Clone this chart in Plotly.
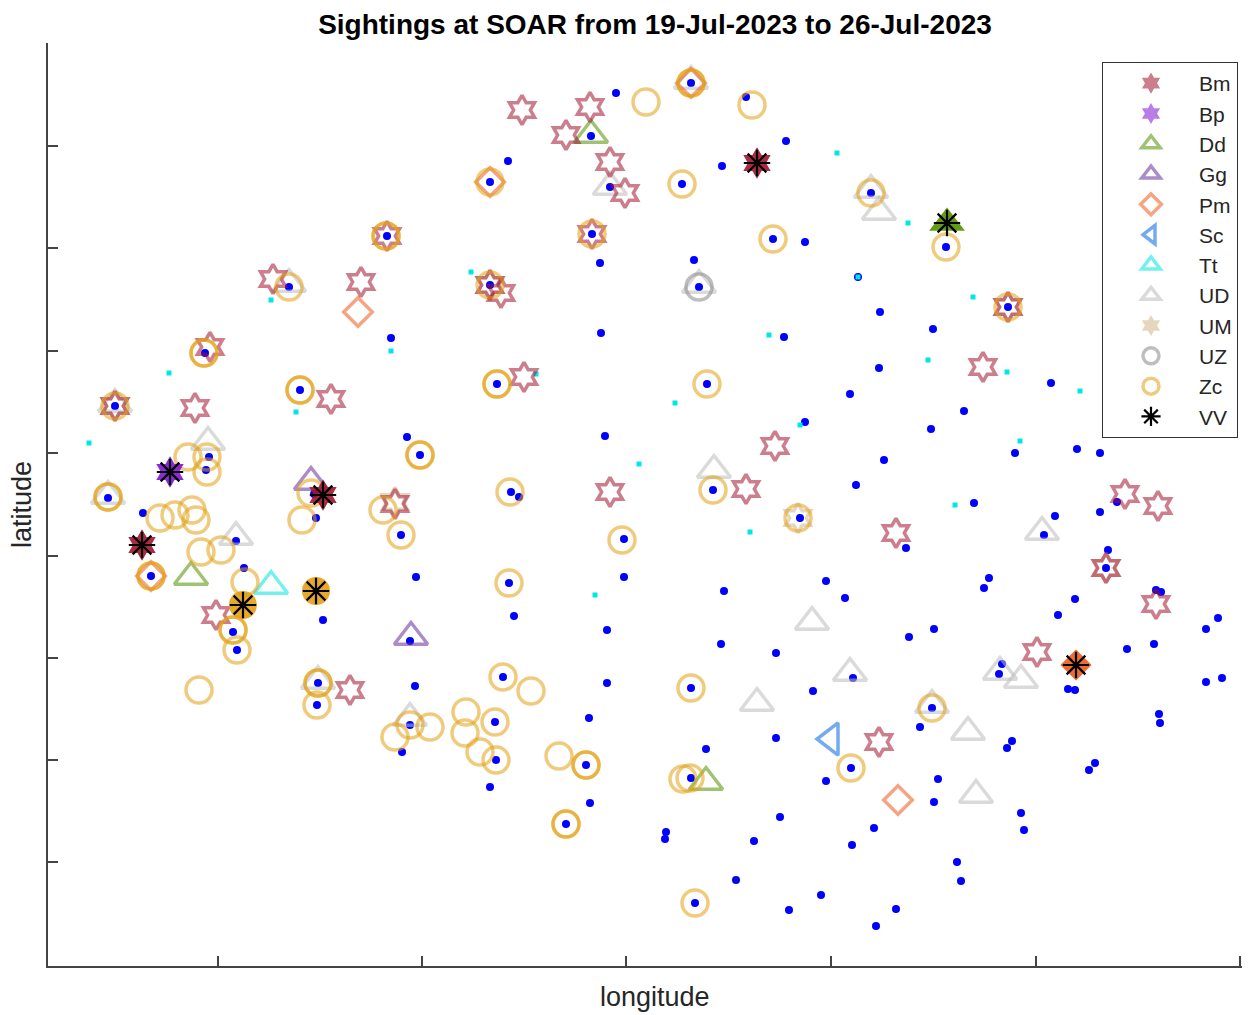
import plotly.graph_objects as go

# ---------------- data (longitude / latitude in plot units) ----------------
track_lon = [616, 691, 746, 508, 591, 490, 610, 682, 722, 786, 387, 592, 773, 805, 871, 946, 600, 694, 699, 289,
             490, 391, 858, 880, 933, 1008, 205, 601, 784, 879, 850, 300, 497, 707, 964, 931, 1051, 115, 407, 420,
             605, 805, 884, 1015, 1077, 1100, 209, 206, 108, 314, 511, 519, 713, 856, 974, 1117, 143, 316, 401, 624,
             800, 906, 1055, 1100, 1044, 236, 1108, 1106, 244, 151, 416, 509, 624, 724, 826, 845, 989, 984, 1075, 1058,
             1156, 1161, 323, 514, 607, 721, 909, 934, 1218, 1206, 233, 237, 410, 1127, 1154, 853, 1002, 999, 1068, 1075,
             1206, 1222, 415, 318, 317, 503, 607, 691, 813, 776, 932, 920, 1159, 1160, 410, 402, 495, 496, 589, 586,
             490, 706, 776, 1012, 1007, 691, 826, 851, 1095, 1089, 938, 934, 780, 754, 590, 566, 666, 665, 874, 852,
             1021, 1024, 957, 961, 736, 695, 821, 789, 896, 876]
track_lat = [907, 917, 903, 839, 864, 818, 813, 816, 834, 859, 764, 766, 761, 758, 807, 753, 737, 740, 713, 713,
             715, 662, 723, 688, 671, 693, 647, 667, 663, 632, 606, 610, 616, 616, 589, 571, 617, 594, 563, 545,
             564, 578, 540, 547, 551, 547, 543, 530, 502, 506, 508, 503, 510, 515, 497, 498, 487, 482, 465, 461,
             482, 452, 484, 488, 465, 459, 450, 432, 432, 424, 423, 417, 423, 409, 419, 402, 422, 412, 401, 385,
             410, 408, 380, 384, 370, 356, 363, 371, 382, 371, 368, 350, 359, 351, 356, 322, 336, 326, 311, 310,
             318, 322, 314, 317, 295, 323, 317, 312, 309, 347, 292, 273, 286, 277, 275, 248, 278, 240, 282, 235,
             213, 251, 262, 259, 252, 222, 219, 232, 237, 230, 221, 198, 183, 159, 197, 176, 168, 161, 172, 155,
             187, 170, 138, 119, 120, 97, 105, 90, 91, 74]

cyan_lon = [271, 391, 169, 296, 89, 471, 536, 675, 769, 800, 639, 837, 908, 858, 973, 928, 1007, 1080, 1020, 955, 595, 750]
cyan_lat = [700, 649, 627, 588, 557, 728, 626, 597, 665, 575, 536, 847, 777, 723, 703, 640, 628, 609, 559, 495, 405, 468]

bm_lon = [522, 590, 566, 610, 625, 592, 490, 501, 273, 361, 210, 195, 331, 524, 115, 775, 610, 746, 395, 1008,
          983, 1125, 1158, 896, 1106, 1156, 1037, 879, 216, 350, 387]
bm_lat = [890, 893, 865, 838, 807, 766, 715, 707, 721, 718, 653, 592, 601, 623, 594, 554, 508, 511, 496, 693,
          633, 506, 494, 467, 432, 396, 348, 258, 385, 310, 764]

dd_lon = [591, 191, 706]
dd_lat = [865, 423, 218]
gg_lon = [411, 311]
gg_lat = [363, 518]
pm_lon = [358, 898, 490, 151, 691]
pm_lat = [688, 200, 818, 424, 917]
sc_lon = [831]
sc_lat = [261]
tt_lon = [271]
tt_lat = [414]
ud_lon = [879, 610, 714, 236, 812, 757, 850, 1042, 1000, 1021, 968, 976, 289, 699, 871, 108, 208, 691, 318, 410, 115, 932]
ud_lat = [788, 813, 530, 463, 378, 297, 327, 468, 328, 320, 268, 205, 716, 715, 810, 504, 558, 919, 319, 282, 596, 295]
um_lon = [1106, 1008, 490, 798, 395, 115]
um_lat = [432, 693, 715, 482, 498, 594]
uz_lon = [699]
uz_lat = [713]
zc_lon = [386, 386, 289, 204, 204, 115, 300, 300, 497, 497, 420, 420, 707, 188, 207, 207, 108, 108, 311, 302,
          383, 401, 510, 622, 509, 160, 175, 192, 196, 201, 221, 151, 151, 245, 233, 233, 237, 199, 318, 318,
          317, 395, 410, 430, 466, 495, 465, 480, 496, 503, 531, 559, 586, 586, 566, 566, 691, 683, 690, 695,
          851, 932, 713, 798, 773, 682, 490, 646, 752, 691, 691, 871, 946, 1008, 592, 490]
zc_lat = [764, 764, 713, 647, 647, 594, 610, 610, 616, 616, 545, 545, 616, 543, 543, 528, 503, 503, 507, 480,
          490, 465, 508, 460, 417, 482, 485, 490, 480, 448, 450, 424, 424, 418, 370, 370, 350, 310, 317, 317,
          295, 263, 275, 273, 288, 278, 267, 248, 240, 323, 309, 244, 235, 235, 176, 176, 312, 221, 222, 97,
          232, 292, 510, 482, 761, 816, 818, 898, 895, 917, 917, 807, 753, 693, 766, 715]

vv_lon = [170, 323, 142, 757, 947, 1076, 243, 316]
vv_lat = [528, 505, 455, 837, 777, 335, 395, 409]
vv_species = ["Bp", "Bm", "Bm", "Bm", "Dd", "Pm", "Zc", "Zc"]

species_order = ["Bm", "Bp", "Dd", "Gg", "Pm", "Sc", "Tt", "UD", "UM", "UZ", "Zc", "VV"]
x_ticks = [218, 422, 626, 831, 1036, 1240]
y_ticks = [35, 138, 240, 342, 444, 547, 649, 752, 854, 957]

# ---------------- styles ----------------
ALPHA = 0.55
base = {
    "Bm": (162, 20, 47), "Bp": (125, 20, 210), "Dd": (82, 145, 0), "Gg": (100, 45, 155),
    "Pm": (236, 91, 27), "Sc": (0, 100, 228), "Tt": (0, 228, 228), "UD": (188, 188, 188),
    "UM": (206, 182, 137), "UZ": (137, 137, 137), "Zc": (228, 160, 20),
}
symbol = {
    "Bm": "hexagram", "Bp": "hexagram", "Dd": "triangle-up", "Gg": "triangle-up", "Pm": "diamond",
    "Sc": "triangle-left", "Tt": "triangle-up", "UD": "triangle-up", "UM": "hexagram", "UZ": "circle",
    "Zc": "circle",
}
msize = {"Bm": 22, "Bp": 22, "Dd": 29, "Gg": 29, "Pm": 22, "Sc": 28, "Tt": 29, "UD": 29, "UM": 22,
         "UZ": 26, "Zc": 26}
legend_filled = {"Bm", "Bp", "UM"}


def rgba(c, a):
    return f"rgba({c[0]},{c[1]},{c[2]},{a})"


data = {
    "Bm": (bm_lon, bm_lat), "Dd": (dd_lon, dd_lat), "Gg": (gg_lon, gg_lat), "Pm": (pm_lon, pm_lat),
    "Sc": (sc_lon, sc_lat), "Tt": (tt_lon, tt_lat), "UD": (ud_lon, ud_lat), "UM": (um_lon, um_lat),
    "UZ": (uz_lon, uz_lat), "Zc": (zc_lon, zc_lat),
}

fig = go.Figure()

# track points
fig.add_trace(go.Scatter(x=track_lon, y=track_lat, mode="markers",
                         marker=dict(color="rgb(0,0,255)", size=8, line=dict(width=0)),
                         showlegend=False, hoverinfo="skip"))
fig.add_trace(go.Scatter(x=cyan_lon, y=cyan_lat, mode="markers",
                         marker=dict(color="rgb(0,230,230)", size=5, symbol="square", line=dict(width=0)),
                         showlegend=False, hoverinfo="skip"))

# species sightings (open, translucent)
draw_order = ["UD", "UZ", "Tt", "Sc", "Gg", "Dd", "Pm", "UM", "Bm", "Zc"]
for sp in draw_order:
    lon, lat = data[sp]
    fig.add_trace(go.Scatter(
        x=lon, y=lat, mode="markers", showlegend=False, hoverinfo="skip",
        marker=dict(symbol=symbol[sp] + "-open", size=msize[sp], color=rgba(base[sp], ALPHA),
                    line=dict(width=3.5, color=rgba(base[sp], ALPHA)))))

# VV: filled species marker with asterisk
for sp in ["Bp", "Bm", "Dd", "Pm", "Zc"]:
    xs = [x for x, s in zip(vv_lon, vv_species) if s == sp]
    ys = [y for y, s in zip(vv_lat, vv_species) if s == sp]
    fig.add_trace(go.Scatter(
        x=xs, y=ys, mode="markers", showlegend=False, hoverinfo="skip",
        marker=dict(symbol=symbol[sp], size=msize[sp] + 2, color=rgba(base[sp], 0.9),
                    line=dict(width=0))))
fig.add_trace(go.Scatter(
    x=vv_lon, y=vv_lat, mode="markers", showlegend=False, hoverinfo="skip",
    marker=dict(symbol="asterisk-open", size=22, color="black", line=dict(width=2.2, color="black"))))

# legend entries
for sp in species_order:
    if sp == "VV":
        mk = dict(symbol="asterisk-open", size=16, color="black", line=dict(width=2.2, color="black"))
    elif sp in legend_filled:
        mk = dict(symbol=symbol[sp], size=16, color=rgba(base[sp], ALPHA), line=dict(width=0))
    else:
        mk = dict(symbol=symbol[sp] + "-open", size=16, color=rgba(base[sp], ALPHA),
                  line=dict(width=3.5, color=rgba(base[sp], ALPHA)))
    fig.add_trace(go.Scatter(x=[None], y=[None], mode="markers", name=sp, marker=mk, showlegend=True))

axis_common = dict(showgrid=False, zeroline=False, showline=True, linecolor="#444444", linewidth=1.5,
                   ticks="inside", ticklen=10, tickwidth=1.5, tickcolor="#444444", showticklabels=False,
                   mirror=False)

# page body has an 8px margin: figure is sized/positioned to compensate
W, H = 1249, 1007
OFF = 8
PL, PR, PT, PB = 48 - OFF, 1242 - OFF, 43 - OFF, 966 - OFF   # plot box in figure pixels
PW, PH = PR - PL, PB - PT

fig.update_layout(
    width=W, height=H,
    margin=dict(l=PL, r=W - PR, t=PT, b=H - PB, pad=0),
    paper_bgcolor="white", plot_bgcolor="white",
    font=dict(family="Liberation Sans, Arial, sans-serif", color="#262626"),
    title=dict(text="<b>Sightings at SOAR from 19-Jul-2023 to 26-Jul-2023</b>",
               x=(655 - OFF) / W, xref="container", xanchor="center",
               y=1 - (24 - OFF) / H, yref="container", yanchor="middle",
               font=dict(size=28, color="black", family="Liberation Sans, Arial, sans-serif")),
    xaxis=dict(range=[48, 1242], tickvals=x_ticks, **axis_common),
    yaxis=dict(range=[34, 957], tickvals=y_ticks, **axis_common),
    legend=dict(x=(1102 - OFF - PL) / PW, y=(PB - (62 - OFF)) / PH, xanchor="left", yanchor="top",
                bgcolor="white", bordercolor="#333333", borderwidth=1,
                font=dict(size=21, color="#262626"), itemwidth=86, tracegroupgap=0),
    annotations=[
        dict(text="longitude", x=(655 - OFF - PL) / PW, y=(PB - (997 - OFF)) / PH, xref="paper", yref="paper",
             showarrow=False, xanchor="center", yanchor="middle", font=dict(size=27, color="#262626")),
        dict(text="latitude", x=(22 - OFF - PL) / PW, y=(PB - (505 - OFF)) / PH, xref="paper", yref="paper",
             showarrow=False, xanchor="center", yanchor="middle", textangle=-90,
             font=dict(size=27, color="#262626")),
    ],
)

fig.write_html("out.html")
